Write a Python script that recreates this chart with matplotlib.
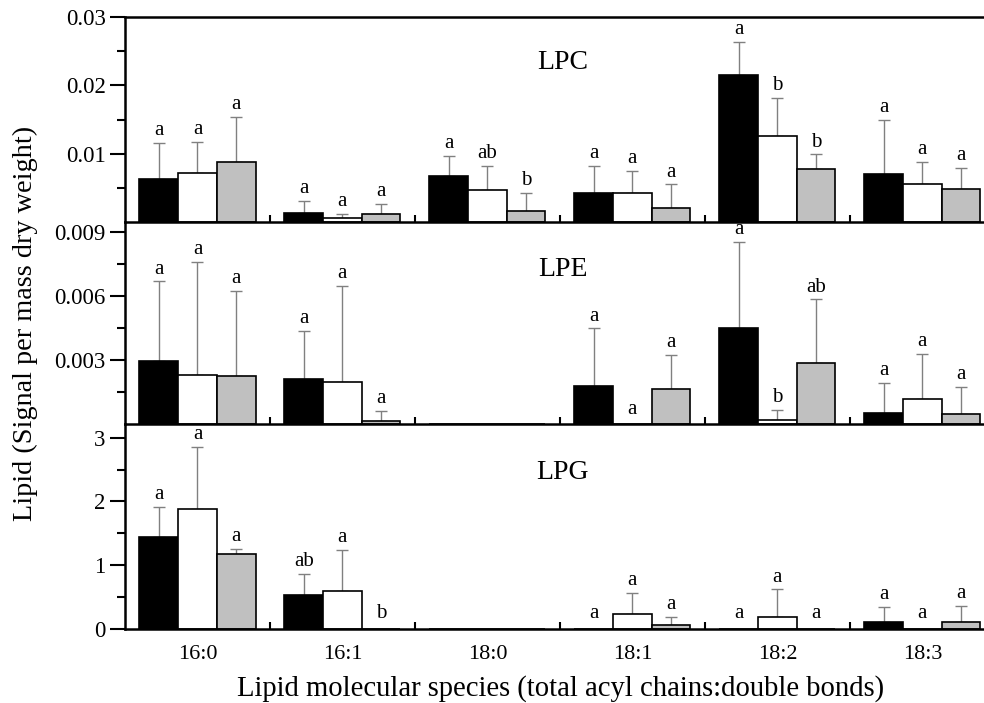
import numpy as np
import matplotlib
matplotlib.use("Agg")
import matplotlib.pyplot as plt

plt.rcParams['font.family'] = ['Liberation Serif', 'DejaVu Serif']

species = ["16:0", "16:1", "18:0", "18:1", "18:2", "18:3"]
panels = ["LPC", "LPE", "LPG"]

# LPC
lpc_black = [0.0063, 0.0013, 0.0068, 0.0042, 0.0215, 0.0070]
lpc_black_sd = [0.0053, 0.0018, 0.0029, 0.0040, 0.0049, 0.0079]
lpc_white = [0.0071, 0.0006, 0.0047, 0.0042, 0.0126, 0.0055]
lpc_white_sd = [0.0046, 0.0006, 0.0035, 0.0033, 0.0056, 0.0033]
lpc_gray = [0.0088, 0.0011, 0.0016, 0.0021, 0.0078, 0.0048]
lpc_gray_sd = [0.0066, 0.0015, 0.0027, 0.0034, 0.0021, 0.0031]
lpc_letters = [["a", "a", "a"], ["a", "a", "a"], ["a", "ab", "b"],
               ["a", "a", "a"], ["a", "b", "b"], ["a", "a", "a"]]

# LPE
lpe_black = [0.00294, 0.00212, 0, 0.00181, 0.00449, 0.00055]
lpe_black_sd = [0.00374, 0.00223, 0, 0.00267, 0.00402, 0.00138]
lpe_white = [0.00229, 0.00196, 0, 0, 0.00022, 0.00119]
lpe_white_sd = [0.00531, 0.00451, 0, 0, 0.00046, 0.00211]
lpe_gray = [0.00226, 0.00017, 0, 0.00165, 0.00286, 0.0005]
lpe_gray_sd = [0.00396, 0.00047, 0, 0.00159, 0.00298, 0.00126]
lpe_letters = [["a", "a", "a"], ["a", "a", "a"], ["", "", ""],
               ["a", "a", "a"], ["a", "b", "ab"], ["a", "a", "a"]]

# LPG
lpg_black = [1.44, 0.53, 0, 0, 0, 0.105]
lpg_black_sd = [0.47, 0.33, 0, 0, 0, 0.235]
lpg_white = [1.88, 0.60, 0, 0.235, 0.188, 0]
lpg_white_sd = [0.98, 0.64, 0, 0.33, 0.43, 0]
lpg_gray = [1.18, 0, 0, 0.063, 0, 0.105]
lpg_gray_sd = [0.08, 0, 0, 0.12, 0, 0.256]
lpg_letters = [["a", "a", "a"], ["ab", "a", "b"], ["", "", ""],
               ["a", "a", "a"], ["a", "a", "a"], ["a", "a", "a"]]

colors = ["black", "white", "#c0c0c0"]

data = [
    ([lpc_black, lpc_white, lpc_gray], [lpc_black_sd, lpc_white_sd, lpc_gray_sd], lpc_letters,
     0.03, [0.01, 0.02, 0.03], ["0.01", "0.02", "0.03"], [0.005, 0.015, 0.025]),
    ([lpe_black, lpe_white, lpe_gray], [lpe_black_sd, lpe_white_sd, lpe_gray_sd], lpe_letters,
     0.00945, [0.003, 0.006, 0.009], ["0.003", "0.006", "0.009"], [0.0015, 0.0045, 0.0075]),
    ([lpg_black, lpg_white, lpg_gray], [lpg_black_sd, lpg_white_sd, lpg_gray_sd], lpg_letters,
     3.21, [0, 1, 2, 3], ["0", "1", "2", "3"], [0.5, 1.5, 2.5]),
]

fig = plt.figure(figsize=(9.84, 7.03), dpi=100)
left, width = 0.127, 0.884
bottoms = [0.6842, 0.3962, 0.1057]
heights = [0.2916, 0.2880, 0.2905]
label_y = [0.776, 0.763, 0.763]

x = np.arange(len(species))
w = 0.267
for i, (vals, sds, letters, ymax, yt, ytl, ymin) in enumerate(data):
    ax = fig.add_axes([left, bottoms[i], width, heights[i]])
    for j in range(3):
        pos = x + (j - 1) * w
        ax.bar(pos, vals[j], width=w, color=colors[j], edgecolor="black", linewidth=1.2, zorder=2)
        v = np.array(vals[j])
        sd = np.array(sds[j])
        m = sd > 0
        ax.errorbar(pos[m], v[m], yerr=[np.zeros(m.sum()), sd[m]], fmt="none",
                    ecolor="#808080", elinewidth=1, capsize=4.5, capthick=1, zorder=1)
        for k in range(len(species)):
            lab = letters[k][j]
            if lab:
                ax.annotate(lab, (pos[k], v[k] + sd[k]), xytext=(0, 2 if sd[k] > 0 else 4),
                            textcoords="offset points", ha="center", va="bottom", fontsize=15)
    ax.set_xlim(-0.5, 5.5)
    ax.set_ylim(0, ymax)
    ax.set_yticks(yt)
    ax.set_yticklabels(ytl)
    ax.set_yticks(ymin, minor=True)
    ax.set_xticks(x)
    ax.set_xticks(np.arange(0.5, 5.5, 1), minor=True)
    ax.tick_params(axis="y", which="major", direction="out", length=11, width=1.5, labelsize=16.5, pad=3)
    ax.tick_params(axis="y", which="minor", direction="out", length=6, width=1.5)
    ax.tick_params(axis="x", which="major", length=0, labelsize=16, pad=12)
    ax.tick_params(axis="x", which="minor", direction="in", length=5, width=1.5)
    if i < 2:
        ax.set_xticklabels([])
    else:
        ax.set_xticklabels(species)
    for s in ["left", "bottom", "top", "right"]:
        ax.spines[s].set_linewidth(1.8)
    if i > 0:
        ax.spines["top"].set_visible(False)
    ax.patch.set_alpha(0)
    ax.text(0.503, label_y[i], panels[i], transform=ax.transAxes, ha="center", va="center", fontsize=20)

fig.text(0.026, 0.540, "Lipid (Signal per mass dry weight)", rotation=90, ha="center", va="center", fontsize=20.3)
fig.text(0.570, 0.021, "Lipid molecular species (total acyl chains:double bonds)", ha="center", va="center", fontsize=20.6)

fig.savefig("out.png", dpi=100)
